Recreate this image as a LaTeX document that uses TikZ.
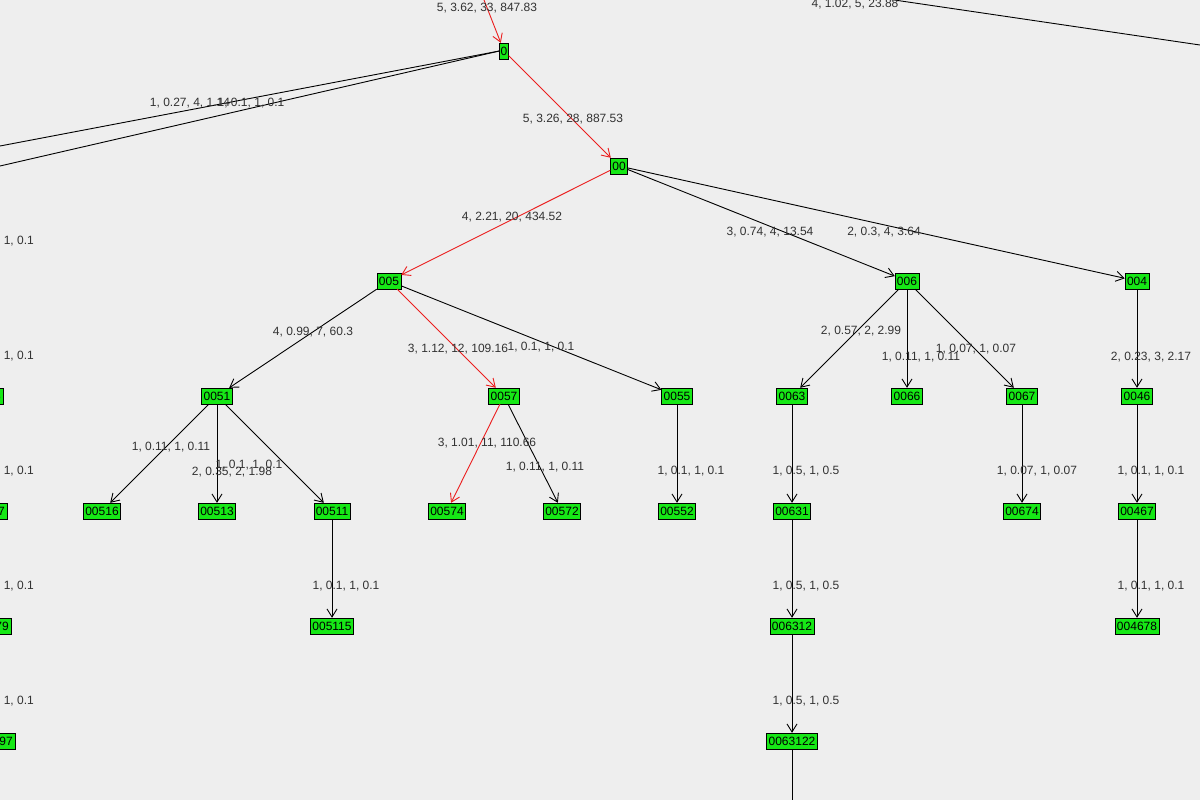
\documentclass[tikz,border=0pt]{standalone}
\usepackage{fontspec}
\setmainfont{Liberation Sans}
\usetikzlibrary{arrows.meta}
\definecolor{bgcol}{RGB}{238,238,238}
\definecolor{vtxcol}{RGB}{22,232,22}
\definecolor{lblcol}{RGB}{50,50,50}
\definecolor{hotcol}{RGB}{235,30,30}
\tikzset{
  vtx/.style={draw=black,fill=vtxcol,inner sep=2pt,minimum height=16pt,font=\fontsize{12}{12}\selectfont},
  lbl/.style={text=lblcol,inner sep=0pt,font=\fontsize{12}{12}\selectfont},
  edge/.style={draw=black,line width=0.9pt,-{Straight Barb[length=8pt,width=10pt]}},
  hot/.style={edge,draw=hotcol},
}
\begin{document}
\begin{tikzpicture}[x=1pt,y=-1pt]
  \useasboundingbox (0,0) rectangle (1200,800);
  \clip (0,0) rectangle (1200,800);
  \fill[bgcol] (0,0) rectangle (1200,800);
%%
  % Nodes
  \node[vtx,minimum width=9pt,inner sep=0.5pt] (n0) at (504,51) {0};
  \node[vtx] (n00) at (619,166) {00};
  \node[vtx] (n005) at (389,281) {005};
  \node[vtx] (n006) at (907,281) {006};
  \node[vtx] (n004) at (1137,281) {004};
  \node[vtx] (n0051) at (217,396) {0051};
  \node[vtx] (n0057) at (504,396) {0057};
  \node[vtx] (n0055) at (677,396) {0055};
  \node[vtx] (n0063) at (792,396) {0063};
  \node[vtx] (n0066) at (907,396) {0066};
  \node[vtx] (n0067) at (1022,396) {0067};
  \node[vtx] (n0046) at (1137,396) {0046};
  \node[vtx] (n00516) at (102,511) {00516};
  \node[vtx] (n00513) at (217,511) {00513};
  \node[vtx] (n00511) at (332,511) {00511};
  \node[vtx] (n00574) at (447,511) {00574};
  \node[vtx] (n00572) at (562,511) {00572};
  \node[vtx] (n00552) at (677,511) {00552};
  \node[vtx] (n00631) at (792,511) {00631};
  \node[vtx] (n00674) at (1022,511) {00674};
  \node[vtx] (n00467) at (1137,511) {00467};
  \node[vtx] (n005115) at (332,626) {005115};
  \node[vtx] (n006312) at (792,626) {006312};
  \node[vtx] (n004678) at (1137,626) {004678};
  \node[vtx] (n0063122) at (792,741) {0063122};
  % cut nodes at the left edge
  \node[vtx,anchor=east] (cA) at (3,396) {0005};
  \node[vtx,anchor=east] (cB) at (7,511) {00047};
  \node[vtx,anchor=east] (cC) at (11,626) {000479};
  \node[vtx,anchor=east] (cD) at (15,741) {0004797};
  % free ends
  \coordinate (topin) at (484,0);
  \coordinate (leftA) at (0,146);
  \coordinate (leftB) at (0,166);
  \coordinate (trA) at (840,-8);
  \coordinate (trB) at (1200,45);
  \coordinate (bot) at (792,800);
%%
  % Edges
  \draw[hot] (topin) -- (n0);
  \draw[hot] (n0) -- (n00);
  \draw[hot] (n00) -- (n005);
  \draw[hot] (n005) -- (n0057);
  \draw[hot] (n0057) -- (n00574);
  \draw[line width=0.9pt] (n0.west) -- (leftA);
  \draw[line width=0.9pt] (n0.west) -- (leftB);
  \draw[line width=0.9pt] (trA) -- (trB);
  \draw[edge] (n00) -- (n006);
  \draw[edge] (n00) -- (n004);
  \draw[edge] (n005) -- (n0051);
  \draw[edge] (n005) -- (n0055);
  \foreach \c in {n0063,n0066,n0067} \draw[edge] (n006) -- (\c);
  \draw[edge] (n004) -- (n0046);
  \foreach \c in {n00516,n00513,n00511} \draw[edge] (n0051) -- (\c);
  \draw[edge] (n0057) -- (n00572);
  \draw[edge] (n0055) -- (n00552);
  \draw[edge] (n0063) -- (n00631);
  \draw[edge] (n0067) -- (n00674);
  \draw[edge] (n0046) -- (n00467);
  \draw[edge] (n00511) -- (n005115);
  \draw[edge] (n00631) -- (n006312);
  \draw[edge] (n00467) -- (n004678);
  \draw[edge] (n006312) -- (n0063122);
  \draw[line width=0.9pt] (n0063122) -- (bot);
%%
  % Labels
  \node[lbl] at (487,8) {5, 3.62, 33, 847.83};
  \node[lbl] at (855,4) {4, 1.02, 5, 23.88};
  \node[lbl] at (190,103) {1, 0.27, 4, 1.14};
  \node[lbl] at (251,103) {1, 0.1, 1, 0.1};
  \node[lbl] at (573,119) {5, 3.26, 28, 887.53};
  \node[lbl] at (512,217) {4, 2.21, 20, 434.52};
  \node[lbl] at (770,232) {3, 0.74, 4, 13.54};
  \node[lbl] at (884,232) {2, 0.3, 4, 3.64};
  \node[lbl] at (313,332) {4, 0.99, 7, 60.3};
  \node[lbl] at (458,349) {3, 1.12, 12, 109.16};
  \node[lbl] at (541,347) {1, 0.1, 1, 0.1};
  \node[lbl] at (861,331) {2, 0.57, 2, 2.99};
  \node[lbl] at (921,357) {1, 0.11, 1, 0.11};
  \node[lbl] at (976,349) {1, 0.07, 1, 0.07};
  \node[lbl] at (1151,357) {2, 0.23, 3, 2.17};
  \node[lbl] at (171,447) {1, 0.11, 1, 0.11};
  \node[lbl] at (232,472) {2, 0.35, 2, 1.98};
  \node[lbl] at (249,465) {1, 0.1, 1, 0.1};
  \node[lbl] at (487,443) {3, 1.01, 11, 110.66};
  \node[lbl] at (545,467) {1, 0.11, 1, 0.11};
  \node[lbl] at (691,471) {1, 0.1, 1, 0.1};
  \node[lbl] at (806,471) {1, 0.5, 1, 0.5};
  \node[lbl] at (1037,471) {1, 0.07, 1, 0.07};
  \node[lbl] at (1151,471) {1, 0.1, 1, 0.1};
  \node[lbl] at (346,586) {1, 0.1, 1, 0.1};
  \node[lbl] at (806,586) {1, 0.5, 1, 0.5};
  \node[lbl] at (1151,586) {1, 0.1, 1, 0.1};
  \node[lbl] at (806,701) {1, 0.5, 1, 0.5};
  \foreach \y in {241,356,471,586,701}
    \node[lbl,anchor=east] at (34,\y) {1, 0.1, 1, 0.1};
\end{tikzpicture}
\end{document}
